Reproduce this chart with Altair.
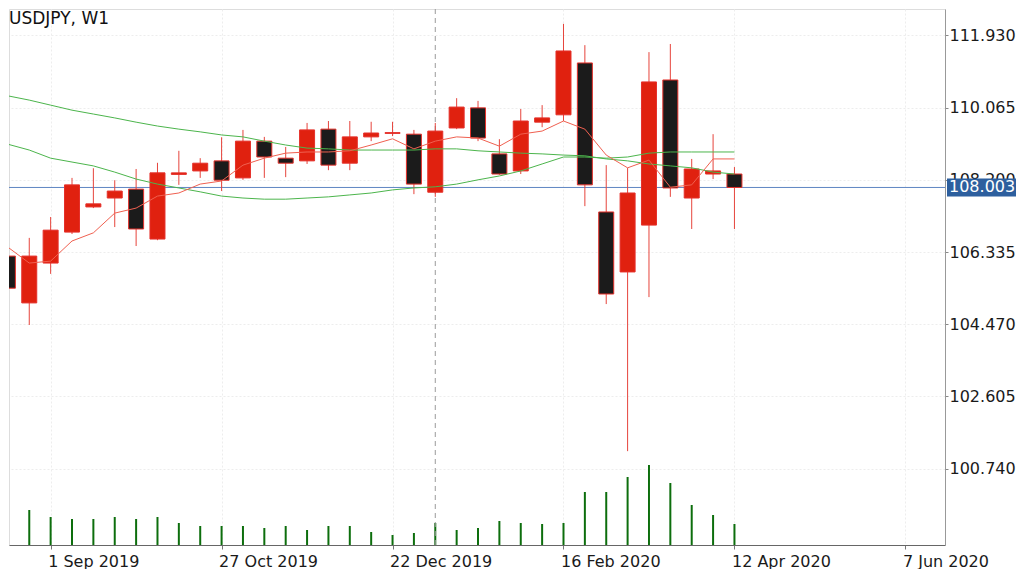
import altair as alt
import pandas as pd

# ---------------- data ----------------
dates = ["2019-08-18", "2019-08-25", "2019-09-01", "2019-09-08", "2019-09-15",
         "2019-09-22", "2019-09-29", "2019-10-06", "2019-10-13", "2019-10-20",
         "2019-10-27", "2019-11-03", "2019-11-10", "2019-11-17", "2019-11-24",
         "2019-12-01", "2019-12-08", "2019-12-15", "2019-12-22", "2019-12-29",
         "2020-01-05", "2020-01-12", "2020-01-19", "2020-01-26", "2020-02-02",
         "2020-02-09", "2020-02-16", "2020-02-23", "2020-03-01", "2020-03-08",
         "2020-03-15", "2020-03-22", "2020-03-29", "2020-04-05", "2020-04-12"]
opens = [106.23, 105.02, 106.05, 106.85, 107.50, 107.73, 107.96, 106.67, 108.34, 108.43,
         108.69, 108.25, 109.20, 108.76, 108.69, 109.51, 108.63, 109.31, 109.40, 109.38,
         107.88, 109.54, 110.06, 108.87, 108.43, 109.69, 109.88, 111.22, 107.37, 105.82,
         107.03, 110.78, 107.73, 108.35, 108.35]
highs = [106.70, 106.70, 107.24, 108.25, 108.50, 108.19, 108.48, 108.64, 108.95, 108.76,
         109.30, 109.49, 109.31, 109.05, 109.67, 109.72, 109.72, 109.70, 109.70, 109.49,
         109.67, 110.31, 110.24, 109.25, 110.03, 110.13, 112.23, 111.68, 108.58, 108.51,
         111.50, 111.71, 108.74, 109.38, 108.53]
lows = [105.10, 104.45, 105.77, 106.80, 107.47, 106.98, 106.49, 106.64, 108.07, 108.25,
        107.91, 108.20, 108.25, 108.27, 108.61, 108.45, 108.45, 109.20, 109.33, 107.83,
        107.76, 109.51, 109.20, 108.33, 108.35, 109.56, 109.72, 107.52, 104.99, 101.19,
        105.17, 107.76, 106.93, 108.22, 106.93]
closes = [105.40, 106.23, 106.90, 108.07, 107.58, 107.91, 106.93, 108.38, 108.38, 108.63,
          108.19, 109.20, 108.79, 108.63, 109.49, 108.58, 109.31, 109.41, 109.42, 108.09,
          109.46, 110.08, 109.28, 108.35, 109.72, 109.80, 111.53, 108.07, 105.25, 107.86,
          110.73, 107.99, 108.48, 108.43, 108.003]
volumes = [31000, 35000, 28000, 26000, 26000, 28000, 26000, 28000, 22000, 19000,
           19000, 19000, 17000, 19000, 15000, 19000, 19000, 13000, 10000, 12000,
           22000, 15000, 17000, 24000, 22000, 21000, 22000, 53000, 53000, 68000,
           80000, 62000, 40000, 30000, 21000]
ma_fast = [106.46, 106.05, 106.10, 106.62, 106.83, 107.34, 107.47, 107.78, 107.86, 108.09,
           108.17, 108.58, 108.76, 108.89, 108.92, 108.92, 108.95, 109.10, 109.26, 109.00,
           109.20, 109.31, 109.28, 109.07, 109.38, 109.46, 109.72, 109.51, 108.84, 108.51,
           108.71, 108.01, 108.07, 108.74, 108.74]
ma_slow = [110.37, 110.26, 110.13, 110.00, 109.90, 109.80, 109.69, 109.59, 109.51, 109.44,
           109.36, 109.31, 109.20, 109.10, 109.02, 109.00, 108.97, 108.97, 108.97, 108.97,
           109.00, 109.00, 108.95, 108.92, 108.89, 108.87, 108.84, 108.82, 108.74, 108.69,
           108.61, 108.56, 108.51, 108.40, 108.35]
ma_mid = [109.12, 108.97, 108.76, 108.66, 108.56, 108.40, 108.22, 108.09, 107.99, 107.89,
          107.78, 107.73, 107.70, 107.70, 107.73, 107.76, 107.81, 107.86, 107.94, 107.99,
          108.02, 108.09, 108.20, 108.30, 108.43, 108.61, 108.79, 108.79, 108.76, 108.79,
          108.89, 108.92, 108.92, 108.92, 108.92]

price_ticks = [111.930, 110.065, 108.200, 106.335, 104.470, 102.605, 100.740]
date_ticks = [(2019, 9, 1), (2019, 10, 27), (2019, 12, 22), (2020, 2, 16), (2020, 4, 12), (2020, 6, 7)]
last_price = 108.003
separator_date = ["2020-01-05"]
chart_title = "USDJPY, W1"

# ---------------- styling ----------------
FONT = "DejaVu Sans"
RED = "#e0210f"
BLACK = "#1b1b1b"
EDGE = "#e5302a"
WICK = "#e6443c"
PLOT_W = 936
PLOT_H = 536

df = pd.DataFrame({
    "date": dates, "open": opens, "high": highs, "low": lows, "close": closes,
    "volume": volumes, "ma_fast": ma_fast, "ma_slow": ma_slow, "ma_mid": ma_mid,
})
df["dir"] = ["up" if c >= o else "down" for o, c in zip(opens, closes)]

xscale = alt.Scale(
    type="utc",
    domain=[alt.DateTime(year=2019, month=8, date=20, utc=True),
            alt.DateTime(year=2020, month=6, date=18, hours=8, utc=True)],
)
xaxis = alt.Axis(
    values=[alt.DateTime(year=y, month=m, date=d, utc=True) for y, m, d in date_ticks],
    format="%-d %b %Y", labelAlign="left", labelPadding=4, labelOffset=-3, tickSize=4,
    tickColor="#777", domainColor="#666", labelFont=FONT, labelFontSize=16,
    labelColor="#1a1a1a", labelFlush=False, labelOverlap=False,
    grid=True, gridColor="#ededed", gridDash=[2, 2], title=None,
)
yscale = alt.Scale(domain=[98.765, 112.614], nice=False, zero=False)
yaxis = alt.Axis(
    orient="right", values=price_ticks, format=".3f", tickSize=3,
    tickColor="#888", domainColor="#999", labelFont=FONT, labelFontSize=16,
    labelColor="#1a1a1a", labelPadding=1, labelOverlap=False, labelFlush=False,
    grid=True, gridColor="#ededed", gridDash=[2, 2], title=None,
)

X = alt.X("date:T", scale=xscale, axis=xaxis)
base = alt.Chart(df)

def Y(field):
    return alt.Y(field, type="quantitative", scale=yscale, axis=yaxis)

sep = alt.Chart(pd.DataFrame({"date": separator_date})).mark_rule(
    color="#9a9a9a", strokeDash=[5, 4], strokeWidth=1
).encode(x=alt.X("date:T", scale=xscale, axis=xaxis))

price_line = alt.Chart(pd.DataFrame({"p": [last_price]})).mark_rule(
    color="#5f85c2", strokeWidth=1
).encode(y=Y("p"))

wicks = base.mark_rule(color=WICK, strokeWidth=1, clip=True).encode(
    x=X, y=Y("low"), y2="high"
)
bodies = base.mark_bar(size=15, stroke=EDGE, strokeWidth=1, clip=True).encode(
    x=X, y=Y("open"), y2="close",
    color=alt.Color("dir:N", scale=alt.Scale(domain=["up", "down"], range=[RED, BLACK]), legend=None),
)
line_fast = base.mark_line(color="#f06050", strokeWidth=1, clip=True).encode(x=X, y=Y("ma_fast"))
line_slow = base.mark_line(color="#4cb54c", strokeWidth=1, clip=True).encode(x=X, y=Y("ma_slow"))
line_mid = base.mark_line(color="#4cb54c", strokeWidth=1, clip=True).encode(x=X, y=Y("ma_mid"))

lbl_df = pd.DataFrame({"p": [last_price], "t": [f"{last_price:.3f}"]})
box = alt.Chart(lbl_df).mark_rect(color="#2d5f9e", yOffset=-9, y2Offset=9).encode(
    x=alt.value(PLOT_W + 2), x2=alt.value(PLOT_W + 71), y=Y("p"), y2="p"
)
box_text = alt.Chart(lbl_df).mark_text(
    font=FONT, fontSize=16, color="white", align="left", baseline="middle"
).encode(x=alt.value(PLOT_W + 4), y=Y("p"), text="t:N")

title = alt.Chart(pd.DataFrame({"t": [chart_title]})).mark_text(
    font=FONT, fontSize=17, color="#111", align="left", baseline="alphabetic"
).encode(x=alt.value(0), y=alt.value(15), text="t:N")

volume = base.mark_bar(size=2, color="#0d6e0d", clip=True).encode(
    x=X,
    y=alt.Y("volume:Q", scale=alt.Scale(domain=[0, 536000], nice=False), axis=None),
)

price = alt.layer(sep, price_line, wicks, bodies, line_slow, line_mid, line_fast,
                  box, box_text, title)

chart = alt.layer(volume, price).resolve_scale(y="independent").properties(
    width=PLOT_W, height=PLOT_H,
    padding={"left": 0, "top": 0, "right": 0, "bottom": 0},
).configure_view(stroke="#aaaaaa", strokeWidth=1).configure(background="white")

chart.save("out.html", embed_options={"renderer": "svg", "actions": False})
